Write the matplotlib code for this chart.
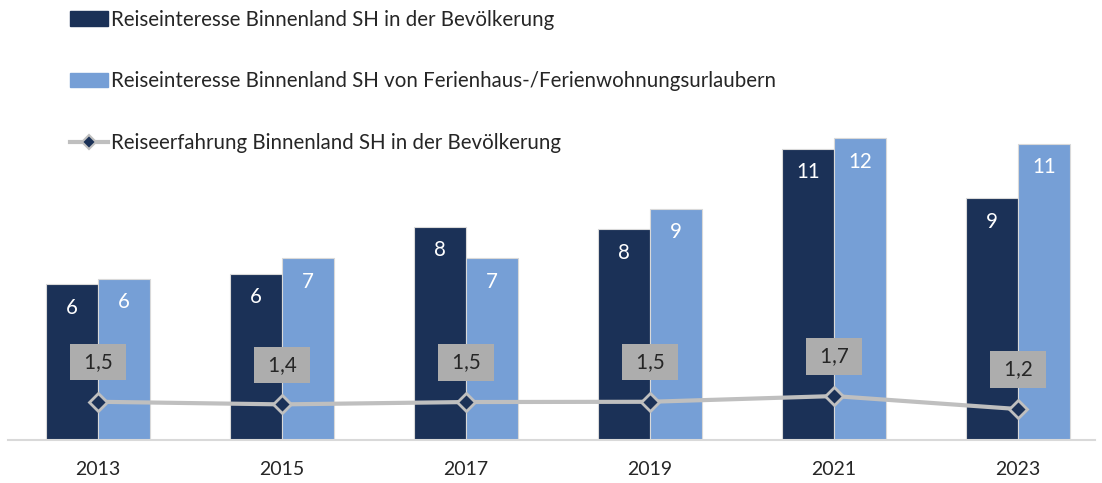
import numpy as np
import matplotlib.pyplot as plt
from matplotlib.lines import Line2D
from matplotlib.patches import Patch

plt.rcParams['font.family'] = ['Lato', 'DejaVu Sans']

years = ['2013', '2015', '2017', '2019', '2021', '2023']
interest_pop = [6.0, 6.4, 8.2, 8.1, 11.2, 9.3]
interest_fewo = [6.2, 7.0, 7.0, 8.9, 11.6, 11.4]
experience_pop = [1.47, 1.37, 1.46, 1.47, 1.69, 1.19]

labels = ['Reiseinteresse Binnenland SH in der Bevölkerung',
          'Reiseinteresse Binnenland SH von Ferienhaus-/Ferienwohnungsurlaubern',
          'Reiseerfahrung Binnenland SH in der Bevölkerung']

dark = '#1B3157'
light = '#769FD6'
grey = '#BFBFBF'

fig = plt.figure(figsize=(11.02, 4.83), dpi=100)
ax = fig.add_axes([0, 43/483, 1, 440/483])

x = np.arange(len(years))
w = 0.284
b1 = ax.bar(x - w/2, interest_pop, w, color=dark, edgecolor='#D9D9D9', linewidth=0.8)
b2 = ax.bar(x + w/2, interest_fewo, w, color=light, edgecolor='#D9D9D9', linewidth=0.8)
ax.plot(x, experience_pop, color=grey, linewidth=3, marker='D', markersize=9,
        markerfacecolor=dark, markeredgecolor=grey, markeredgewidth=2, zorder=3)

# value labels inside the bars
for bars, vals in ((b1, interest_pop), (b2, interest_fewo)):
    for r, v in zip(bars, vals):
        ax.annotate(f'{v:.0f}', (r.get_x() + r.get_width()/2, v), xytext=(0, -17),
                    textcoords='offset points', ha='center', va='center',
                    color='white', fontsize=14.8)

# grey boxes above the line markers
for xi, v in zip(x, experience_pop):
    ax.annotate(' ' + f'{v:.1f}'.replace('.', ',') + ' ', (xi, v), xytext=(0, 28.5),
                textcoords='offset points', ha='center', va='center',
                color='#262626', fontsize=14.8,
                bbox=dict(boxstyle='square,pad=0.4', fc='#ADADAD', ec='none'))

ax.set_xlim(-0.533, 5.456)
ax.set_ylim(0, 440/26)
ax.set_xticks(x)
ax.set_xticklabels(years, fontsize=14, color='#262626')
ax.tick_params(axis='x', length=0, pad=15)
ax.set_yticks([])
for s in ['top', 'right', 'left']:
    ax.spines[s].set_visible(False)
ax.spines['bottom'].set_color('#D9D9D9')
ax.spines['bottom'].set_linewidth(1.5)
ax.spines['bottom'].set_bounds(-0.49, 5.42)

handles = [Patch(color=dark), Patch(color=light),
           Line2D([], [], color=grey, linewidth=3, marker='D', markersize=7,
                  markerfacecolor=dark, markeredgecolor=grey, markeredgewidth=1.5)]
fig.legend(handles, labels, loc='upper left', bbox_to_anchor=(0.049, 1.014),
           frameon=False, fontsize=14.8, handlelength=1.85, handletextpad=0.1,
           labelspacing=2.02, borderaxespad=0.4, labelcolor='#262626')

fig.savefig('out.png', dpi=100)
